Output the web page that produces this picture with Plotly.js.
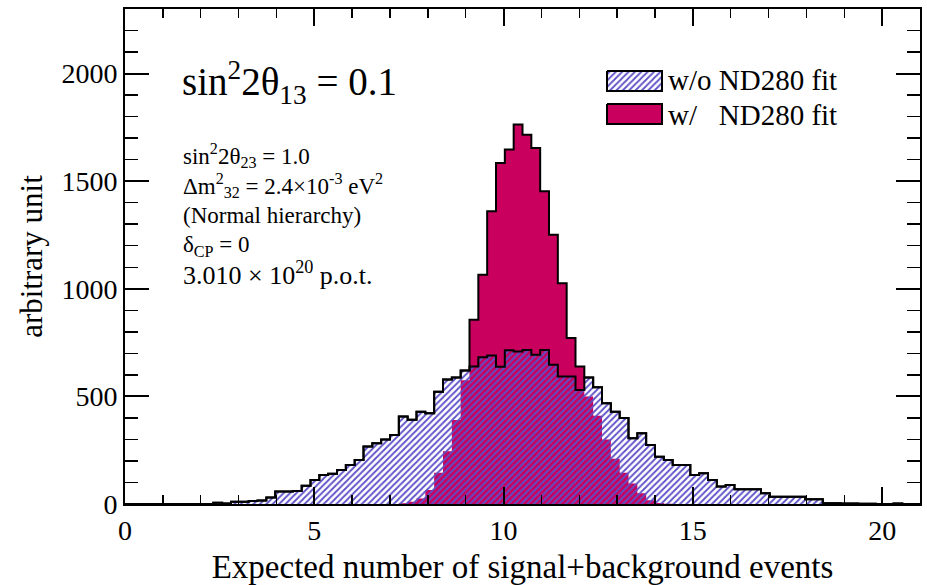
<!DOCTYPE html>
<html>
<head>
<meta charset="utf-8">
<script src="https://cdn.plot.ly/plotly-3.0.1.min.js"></script>
<style>
  html, body { margin: 0; padding: 0; background: #ffffff; }
  #chart { width: 927px; height: 585px; }
</style>
</head>
<body>
<div id="chart"></div>
<script>
// Histogram binning: 90 equal bins between 0 and 21 expected events
const binLow = 0;
const binHigh = 21;

// Pseudo-experiment distribution without the ND280 constraint (90 bins)
const withoutFit = [
  0, 0, 0, 0, 0, 0, 0, 0, 0, 0,
  6, 2, 10, 10, 14, 16, 30, 58, 58, 60,
  85, 112, 135, 140, 158, 181, 205, 267, 282, 300,
  321, 406, 391, 429, 422, 522, 578, 588, 620, 639,
  682, 690, 638, 714, 709, 716, 693, 716, 647, 592,
  592, 530, 588, 542, 468, 429, 400, 305, 329, 274,
  220, 205, 181, 181, 135, 143, 112, 81, 88, 68,
  68, 68, 50, 34, 34, 34, 34, 22, 22, 4,
  3, 2, 2, 1, 1, 0, 0, 2, 0, 0
];

// Same distribution with the ND280 fit applied (90 bins)
const withFit = [
  0, 0, 0, 0, 0, 0, 0, 0, 0, 0,
  0, 0, 0, 0, 0, 0, 0, 0, 0, 0,
  0, 0, 0, 0, 0, 0, 0, 0, 0, 0,
  0, 3, 10, 25, 65, 145, 245, 390, 575, 856,
  1065, 1360, 1585, 1647, 1763, 1716, 1654, 1453, 1251, 1026,
  771, 639, 500, 410, 300, 210, 145, 95, 50, 18,
  5, 1, 0, 0, 0, 0, 0, 0, 0, 0,
  0, 0, 0, 0, 0, 0, 0, 0, 0, 0,
  0, 0, 0, 0, 0, 0, 0, 0, 0, 0
];

const seriesNames = ['w/o ND280 fit', 'w/   ND280 fit'];
const xTitle = 'Expected number of signal+background events';
const yTitle = 'arbitrary unit';

const xRange = [0, 21];
const yRange = [0, 2300];

// ---- step-histogram helpers ----
const nBins = withoutFit.length;
const binWidth = (binHigh - binLow) / nBins;
const edges = Array.from({ length: nBins + 1 }, (_, i) => binLow + i * binWidth);
const stepValues = vals => vals.concat([vals[vals.length - 1]]);
// outer outline: the fitted histogram shows its border only where it rises above the other one
const envelope = withFit.map((v, i) => Math.max(v, withoutFit[i]));

const SERIF = 'Liberation Serif, Times New Roman, serif';
const MAGENTA = '#c9005e';
const HATCH = '#5b50c8';

const hatch = { shape: '/', fgcolor: HATCH, bgcolor: 'rgba(0,0,0,0)', size: 4.5, solidity: 0.4 };

const traces = [
  { // fitted distribution, solid fill
    x: edges, y: stepValues(withFit), type: 'scatter', mode: 'lines',
    line: { shape: 'hv', width: 0, color: MAGENTA },
    fill: 'tozeroy', fillcolor: MAGENTA,
    hoverinfo: 'skip', showlegend: false
  },
  { // unconstrained distribution, hatched fill drawn over the solid one
    x: edges, y: stepValues(withoutFit), type: 'scatter', mode: 'lines',
    line: { shape: 'hv', width: 0, color: HATCH },
    fill: 'tozeroy', fillcolor: 'rgba(0,0,0,0)', fillpattern: hatch,
    hoverinfo: 'skip', showlegend: false
  },
  { // outline of the unconstrained distribution
    x: edges, y: stepValues(withoutFit), type: 'scatter', mode: 'lines',
    line: { shape: 'hv', width: 2, color: '#000000' },
    hoverinfo: 'skip', showlegend: false
  },
  { // outline of the fitted peak where it sticks out
    x: edges, y: stepValues(envelope), type: 'scatter', mode: 'lines',
    line: { shape: 'hv', width: 2, color: '#000000' },
    hoverinfo: 'skip', showlegend: false
  }
];

// Legend boxes live on a hidden overlay axis pair measured in screen pixels
const box = (x0, x1, y0, y1) => ({ x: [x0, x1, x1, x0, x0], y: [y0, y0, y1, y1, y0] });
const keyBox1 = box(607, 662, 71, 91);
const keyBox2 = box(607, 662, 104, 124);
traces.push({
  x: keyBox1.x, y: keyBox1.y, xaxis: 'x2', yaxis: 'y2', type: 'scatter', mode: 'lines',
  fill: 'toself', fillcolor: 'rgba(0,0,0,0)', fillpattern: hatch,
  line: { color: '#000000', width: 2 }, hoverinfo: 'skip', showlegend: false
});
traces.push({
  x: keyBox2.x, y: keyBox2.y, xaxis: 'x2', yaxis: 'y2', type: 'scatter', mode: 'lines',
  fill: 'toself', fillcolor: MAGENTA,
  line: { color: '#000000', width: 2 }, hoverinfo: 'skip', showlegend: false
});

const note = (text, x, y, size) => ({
  text: text, x: x, y: y, xref: 'x2', yref: 'y2',
  xanchor: 'left', yanchor: 'middle', showarrow: false,
  font: { family: SERIF, size: size, color: '#000000' }
});

const annotations = [
  note('sin<sup>2</sup>2θ<sub>13</sub> = 0.1', 180, 82, 39),
  note('sin<sup>2</sup>2θ<sub>23</sub> = 1.0', 181, 155, 23),
  note('Δm<sup>2</sup><sub>32</sub> = 2.4×10<sup>-3</sup> eV<sup>2</sup>', 181, 185, 23),
  note('(Normal hierarchy)', 181, 215, 23),
  note('δ<sub>CP</sub> = 0', 181, 246, 23),
  note('3.010 × 10<sup>20</sup> p.o.t.', 181, 273, 26),
  note(seriesNames[0], 666, 80, 29),
  note(seriesNames[1], 666, 115, 29)
];

const axisCommon = {
  showline: true, linecolor: '#000000', linewidth: 2, mirror: 'allticks',
  ticks: 'inside', tickcolor: '#000000', tickwidth: 2,
  showgrid: false, zeroline: false,
  tickfont: { family: SERIF, size: 28, color: '#000000' }
};

const layout = {
  width: 927, height: 585,
  margin: { l: 125, r: 7, t: 9, b: 81 },
  paper_bgcolor: '#ffffff', plot_bgcolor: '#ffffff',
  showlegend: false,
  xaxis: Object.assign({}, axisCommon, {
    range: xRange, tick0: 0, dtick: 5, ticklen: 17,
    minor: { dtick: 1, ticklen: 9, ticks: 'inside', tickcolor: '#000000', tickwidth: 1.5 },
    title: { text: xTitle, font: { family: SERIF, size: 33, color: '#000000' }, standoff: 10 }
  }),
  yaxis: Object.assign({}, axisCommon, {
    range: yRange, tick0: 0, dtick: 500, ticklen: 24,
    minor: { dtick: 100, ticklen: 13, ticks: 'inside', tickcolor: '#000000', tickwidth: 1.5 },
    title: { text: yTitle, font: { family: SERIF, size: 31, color: '#000000' }, standoff: 10 }
  }),
  xaxis2: { overlaying: 'x', range: [125, 920], visible: false, fixedrange: true },
  yaxis2: { overlaying: 'y', range: [504, 9], visible: false, fixedrange: true },
  annotations: annotations
};

Plotly.newPlot('chart', traces, layout, { staticPlot: true, displayModeBar: false });
</script>
</body>
</html>
